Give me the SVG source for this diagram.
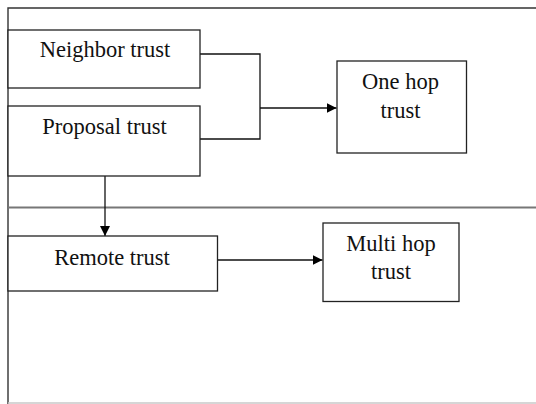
<svg xmlns="http://www.w3.org/2000/svg" width="536" height="404" viewBox="0 0 536 404">
<style>
.box{fill:#fff;stroke:#222;stroke-width:1.3}
.frame{fill:none;stroke:#333;stroke-width:1.4}
.sep{fill:none;stroke:#777;stroke-width:2}
.con{fill:none;stroke:#111;stroke-width:1.3}
text{font-family:"Liberation Serif","Times New Roman",serif;font-size:22.5px;fill:#111;text-anchor:middle}
</style>
<defs>
<marker id="ah" viewBox="0 0 10 10" refX="10" refY="5" markerWidth="10" markerHeight="10" markerUnits="userSpaceOnUse" orient="auto">
<path d="M0,0 L10,5 L0,10 z" fill="#000"/>
</marker>
</defs>
<g id="frame">
<path class="frame" d="M536,8 H8 V404"/>
<line class="sep" x1="8" y1="207.5" x2="536" y2="207.5"/>
<line x1="8" y1="403" x2="536" y2="403" stroke="#c8c8c8" stroke-width="1.5"/>
</g>
<g id="connectors">
<path class="con" d="M200,54 H260 V139 H200"/>
<path class="con" d="M260,108 H336.5" marker-end="url(#ah)"/>
<path class="con" d="M105,176 V236" marker-end="url(#ah)"/>
<path class="con" d="M216,260 H322.5" marker-end="url(#ah)"/>
</g>
<g id="neighbor">
<rect class="box" x="8" y="30" width="192" height="58"/>
<text x="105" y="57">Neighbor trust</text>
</g>
<g id="proposal">
<rect class="box" x="8" y="106" width="192" height="70"/>
<text x="104.5" y="134">Proposal trust</text>
</g>
<g id="onehop">
<rect class="box" x="337" y="61" width="129.5" height="92"/>
<text x="400.5" y="89">One hop</text>
<text x="400.5" y="117.5">trust</text>
</g>
<g id="remote">
<rect class="box" x="8" y="236" width="209.5" height="55"/>
<text x="112" y="265">Remote trust</text>
</g>
<g id="multihop">
<rect class="box" x="323" y="223" width="136" height="78.5"/>
<text x="391" y="251">Multi hop</text>
<text x="391" y="279">trust</text>
</g>
</svg>
